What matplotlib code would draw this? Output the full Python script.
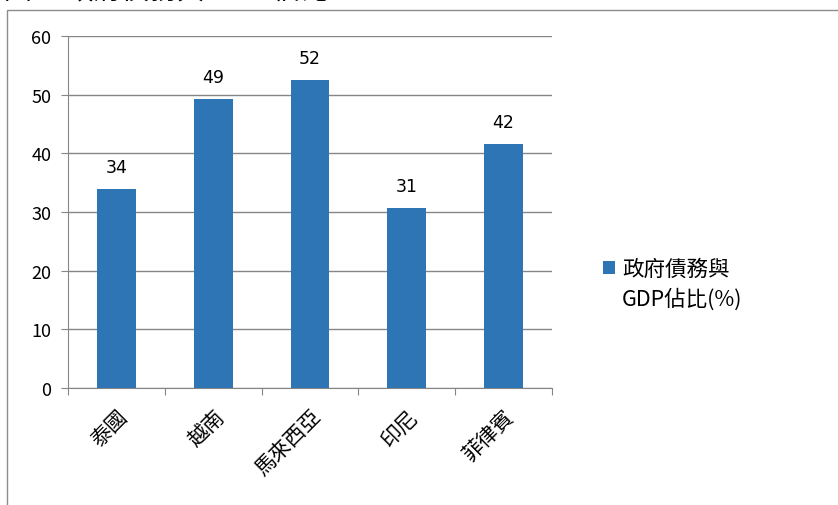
import matplotlib.pyplot as plt
from matplotlib.patches import Rectangle

plt.rcParams['font.family'] = ['Noto Sans CJK TC', 'DejaVu Sans']

countries = ['泰國', '越南', '馬來西亞', '印尼', '菲律賓']
debt_ratio = [33.9, 49.3, 52.5, 30.7, 41.6]
bar_labels = ['34', '49', '52', '31', '42']
legend_line1 = '政府債務與'
legend_line2 = 'GDP佔比(%)'

fig = plt.figure(figsize=(8.38, 5.06), dpi=100)

# outer chart frame
fig.patches.append(Rectangle((7 / 838, -0.01), 1.0, 1 - 11 / 506 + 0.01,
                             transform=fig.transFigure, fill=False,
                             edgecolor='#8c8c8c', linewidth=1))
# title, cut off at the top of the picture
fig.text(0.005, 1 - 6 / 506, '圖 6  政府債務與 GDP 佔比', fontsize=20,
         va='bottom', ha='left', color='black')

ax = fig.add_axes([68 / 838, 1 - 389 / 506, (552 - 68) / 838, (389 - 37) / 506])
x = list(range(len(countries)))
bars = ax.bar(x, debt_ratio, width=0.4, color='#2E75B6', zorder=3)

for xi, v, lab in zip(x, debt_ratio, bar_labels):
    ax.text(xi, v + 2.2, lab, ha='center', va='bottom', fontsize=12.5,
            family=['DejaVu Sans'])

ax.set_xlim(-0.5, len(countries) - 0.5)
ax.set_ylim(0, 60)
ax.set_yticks(range(0, 61, 10))
ax.yaxis.grid(True, color='#868686', linewidth=1, zorder=0)
ax.tick_params(axis='y', labelsize=13, length=5, color='#868686', pad=7)

ax.set_xticks([i - 0.5 for i in range(len(countries) + 1)])
ax.set_xticklabels([])
ax.set_xticks(x, minor=True)
ax.set_xticklabels(countries, minor=True, rotation=45, ha='right',
                   rotation_mode='anchor', fontsize=15)
ax.tick_params(axis='x', which='major', length=5, color='#868686')
ax.tick_params(axis='x', which='minor', length=0, pad=12)

for side in ['top', 'right']:
    ax.spines[side].set_visible(False)
for side in ['left', 'bottom']:
    ax.spines[side].set_color('#868686')

# legend: square beside the first line, second line wraps underneath
fig.legend(handles=[bars], labels=[legend_line1], loc='center left',
           bbox_to_anchor=(603 / 838, 1 - 270 / 506), frameon=False,
           borderpad=0, borderaxespad=0, fontsize=15.5, handlelength=0.55,
           handleheight=0.55, handletextpad=0.35)
fig.text(622 / 838, 1 - 300 / 506, legend_line2, fontsize=15.5,
         ha='left', va='center')

fig.savefig('out.png', dpi=100)
